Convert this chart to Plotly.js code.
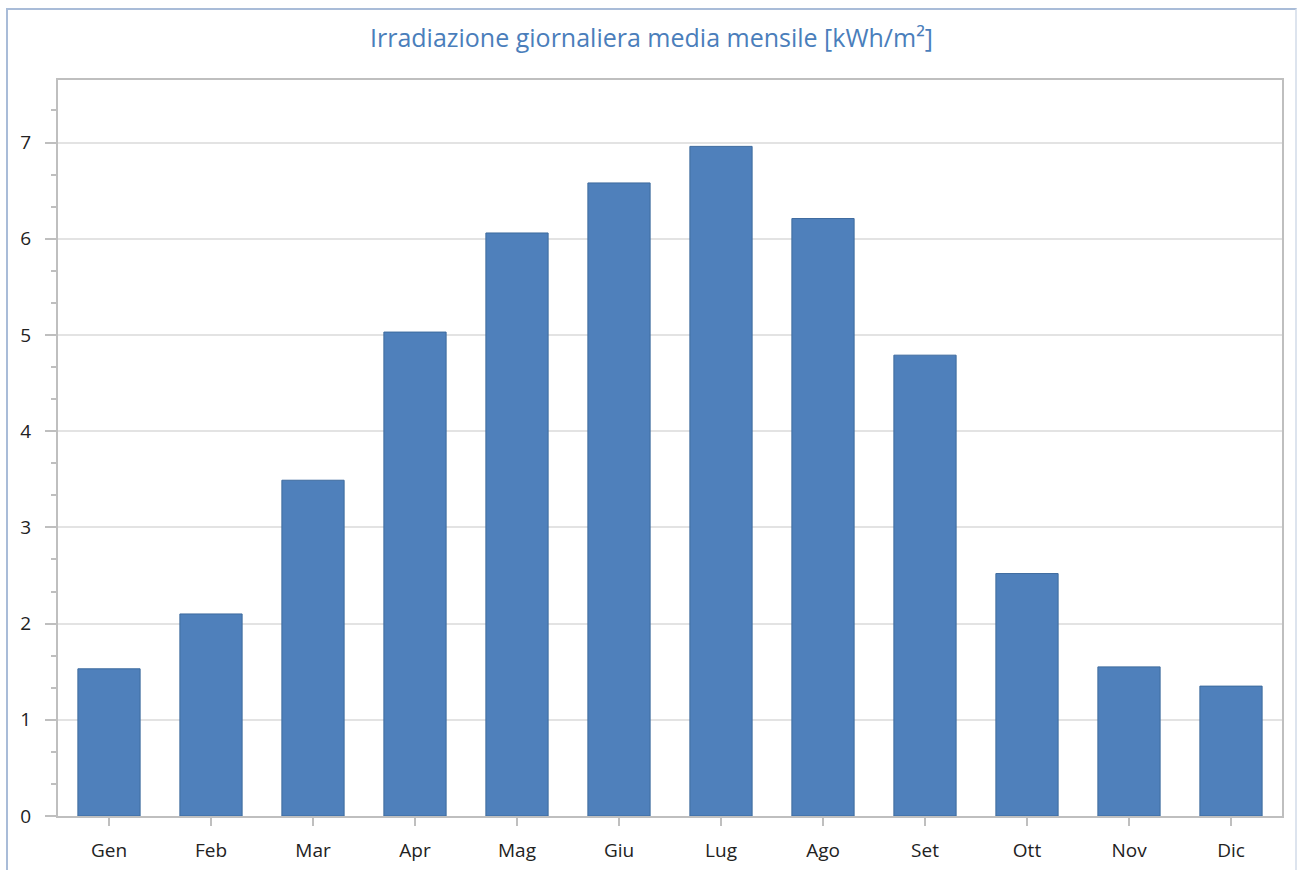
<!DOCTYPE html>
<html>
<head>
<meta charset="utf-8">
<script src="https://cdn.plot.ly/plotly-3.0.1.min.js"></script>
<style>
  html, body { margin: 0; padding: 0; background: #fff; }
  #wrap { position: relative; width: 1303px; height: 870px; }
  #chart { width: 1303px; height: 870px; }
  #frame { position: absolute; left: 6px; top: 8px; width: 1291px; height: 870px;
           border-left: 2px solid #a9bcd8; border-top: 2px solid #a9bcd8; border-right: 2px solid #dde4ee;
           pointer-events: none; box-sizing: border-box; }
</style>
</head>
<body>
<div id="wrap">
  <div id="chart"></div>
  <div id="frame"></div>
</div>
<script>
const months = ["Gen","Feb","Mar","Apr","Mag","Giu","Lug","Ago","Set","Ott","Nov","Dic"];
const irradiation = [1.53, 2.10, 3.49, 5.03, 6.06, 6.58, 6.96, 6.21, 4.79, 2.52, 1.55, 1.35];
const chartTitle = "Irradiazione giornaliera media mensile [kWh/m²]";

const trace = {
  type: "bar",
  x: months,
  y: irradiation,
  marker: { color: "#4f80bb", line: { color: "#3d6a9e", width: 1 } },
  hoverinfo: "x+y"
};

const layout = {
  width: 1303, height: 870,
  margin: { l: 58, r: 21, t: 80, b: 54 },
  paper_bgcolor: "rgba(0,0,0,0)",
  plot_bgcolor: "#ffffff",
  bargap: 0.39,
  showlegend: false,
  font: { family: "Open Sans, Noto Sans, sans-serif", size: 19, color: "#222" },
  title: {
    text: chartTitle,
    font: { family: "Open Sans, Noto Sans, sans-serif", size: 25, color: "#4a7ebb" },
    x: 0.5, xanchor: "center", y: 0.956, yanchor: "middle"
  },
  xaxis: {
    type: "category",
    showline: true, linecolor: "#bfbfbf", linewidth: 2, mirror: true,
    ticks: "outside", ticklen: 8, tickcolor: "#bfbfbf", tickwidth: 2,
    showgrid: false, zeroline: false,
    tickfont: { size: 19, color: "#222" },
    ticklabelstandoff: 8
  },
  yaxis: {
    range: [0, 7.65],
    dtick: 1, tick0: 0,
    showline: true, linecolor: "#bfbfbf", linewidth: 2, mirror: true,
    ticks: "outside", ticklen: 11, tickcolor: "#bfbfbf", tickwidth: 2,
    showgrid: true, gridcolor: "#e3e3e3", gridwidth: 2,
    zeroline: false,
    minor: { dtick: 1/3, tick0: 0, ticks: "outside", ticklen: 5, tickcolor: "#bfbfbf", tickwidth: 2, showgrid: false },
    tickfont: { size: 19, color: "#222" },
    ticklabelstandoff: 10
  }
};

Plotly.newPlot("chart", [trace], layout, { displayModeBar: false, staticPlot: true });
</script>
</body>
</html>
